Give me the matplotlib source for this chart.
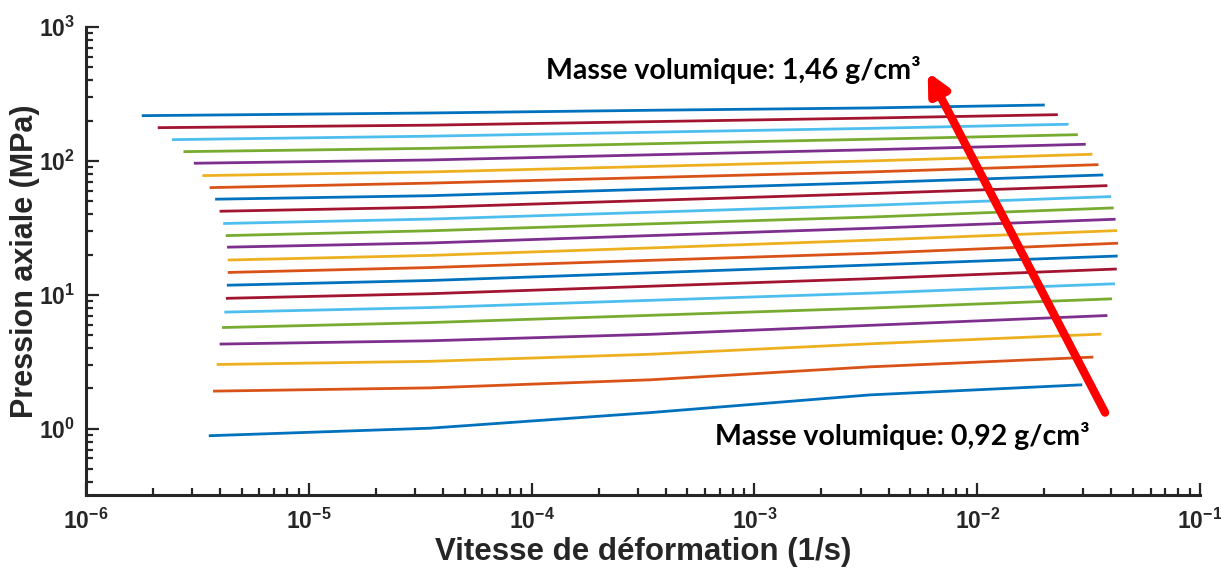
import numpy as np
import matplotlib
matplotlib.use('Agg')
import matplotlib.pyplot as plt
from matplotlib.ticker import FixedLocator, LogLocator, NullFormatter

plt.rcParams['font.family'] = ['Liberation Sans', 'DejaVu Sans']
plt.rcParams['mathtext.fontset'] = 'custom'
plt.rcParams['mathtext.bf'] = 'Liberation Sans:bold'
plt.rcParams['mathtext.rm'] = 'Liberation Sans:bold'
plt.rcParams['axes.unicode_minus'] = False

#strain rate (1/s) per curve, from the lowest density (0.92) to the highest (1.46)
mid_rates = [3.50e-5, 3.40e-4, 3.30e-3]
start_rates = [3.56e-6, 3.72e-6, 3.86e-6, 3.98e-6, 4.08e-6, 4.18e-6, 4.25e-6, 4.29e-6,
               4.33e-6, 4.33e-6, 4.30e-6, 4.24e-6, 4.13e-6, 3.98e-6, 3.80e-6, 3.59e-6,
               3.33e-6, 3.05e-6, 2.74e-6, 2.43e-6, 2.10e-6, 1.78e-6]
end_rates = [0.0296, 0.0332, 0.0361, 0.0384, 0.0403, 0.0415, 0.0423, 0.0427,
             0.0429, 0.0425, 0.0418, 0.0410, 0.0399, 0.0384, 0.0368, 0.0350,
             0.0329, 0.0307, 0.0283, 0.0257, 0.0230, 0.0201]

#axial pressure (MPa) at start, 3 mid rates, end
pressures = [
    [0.887, 1.01, 1.32, 1.79, 2.13],
    [1.91, 2.02, 2.32, 2.90, 3.43],
    [3.02, 3.19, 3.60, 4.31, 5.09],
    [4.29, 4.54, 5.07, 5.92, 7.01],
    [5.70, 6.21, 7.03, 7.96, 9.34],
    [7.43, 8.04, 9.10, 10.3, 12.1],
    [9.42, 10.2, 11.6, 13.2, 15.6],
    [11.8, 12.8, 14.6, 16.7, 19.5],
    [14.7, 16.0, 18.1, 20.4, 24.3],
    [18.2, 19.7, 22.4, 25.6, 30.2],
    [22.7, 24.4, 27.7, 31.4, 36.7],
    [27.7, 30.1, 33.9, 38.1, 44.6],
    [34.1, 36.8, 41.4, 46.6, 54.2],
    [42.1, 45.1, 50.7, 57.0, 65.4],
    [51.8, 55.0, 61.5, 68.8, 78.6],
    [63.2, 68.3, 75.2, 82.8, 93.8],
    [77.7, 82.8, 91.0, 100.0, 112.2],
    [96.1, 101.7, 111.1, 121.2, 133.2],
    [117.3, 124.2, 134.4, 145.2, 157.1],
    [144.2, 153.1, 163.8, 175.1, 187.9],
    [177.2, 185.0, 196.5, 209.0, 221.6],
    [217.8, 228.1, 239.0, 248.7, 261.7],
]

colors = ['#0072BD', '#D95319', '#EDB120', '#7E2F8E', '#77AC30', '#4DBEEE', '#A2142F']
txt_col = '#262626'

fig = plt.figure(figsize=(12.21, 5.69), dpi=100)
ax = fig.add_axes([0.0704, 0.130, 0.9124, 0.8225])

for i in range(len(pressures)):
    x = [start_rates[i]] + mid_rates + [end_rates[i]]
    ax.plot(x, pressures[i], color=colors[i % 7], lw=2.0, solid_capstyle='butt')

ax.set_xscale('log')
ax.set_yscale('log')
ax.set_xlim(1e-6, 1e-1)
ax.set_ylim(0.32, 1e3)

xt = [1e-6, 1e-5, 1e-4, 1e-3, 1e-2, 1e-1]
ax.xaxis.set_major_locator(FixedLocator(xt))
ax.set_xticklabels([r'$\mathbf{10^{-%d}}$' % k for k in range(6, 0, -1)])
yt = [1e0, 1e1, 1e2, 1e3]
ax.yaxis.set_major_locator(FixedLocator(yt))
ax.set_yticklabels([r'$\mathbf{10^{%d}}$' % k for k in range(0, 4)])
for a in (ax.xaxis, ax.yaxis):
    a.set_minor_locator(LogLocator(base=10, subs=np.arange(2, 10), numticks=20))
    a.set_minor_formatter(NullFormatter())

ax.tick_params(which='major', direction='in', length=9, width=1.6, colors=txt_col,
               labelsize=16.5, pad=10)
ax.tick_params(axis='y', which='major', pad=8)
ax.tick_params(which='minor', direction='in', length=5, width=1.6, colors=txt_col)
for s in ['top', 'right']:
    ax.spines[s].set_visible(False)
for s in ['left', 'bottom']:
    ax.spines[s].set_linewidth(2.2)
    ax.spines[s].set_color(txt_col)

ax.set_xlabel('Vitesse de déformation (1/s)', fontsize=22.5, fontweight='bold', color=txt_col, labelpad=2)
ax.set_ylabel('Pression axiale (MPa)', fontsize=22, fontweight='bold', color=txt_col)
ax.yaxis.set_label_coords(-0.041, 0.5)

#red arrow: increasing density
ax.annotate('', xy=(6.0e-3, 461), xytext=(3.75e-2, 1.32),
            arrowprops=dict(arrowstyle='-|>,head_length=1.2,head_width=0.6',
                            color='#FF0000', lw=6, shrinkA=0, shrinkB=0))
ax.text(5.55e-3, 478, 'Masse volumique: 1,46 g/cm³', fontsize=20.5, fontweight='bold',
        family=['Lato', 'DejaVu Sans'], ha='right', va='center', color='black')
ax.text(3.2e-2, 0.887, 'Masse volumique: 0,92 g/cm³', fontsize=20.5, fontweight='bold',
        family=['Lato', 'DejaVu Sans'], ha='right', va='center', color='black')

fig.savefig('out.png', dpi=100)
